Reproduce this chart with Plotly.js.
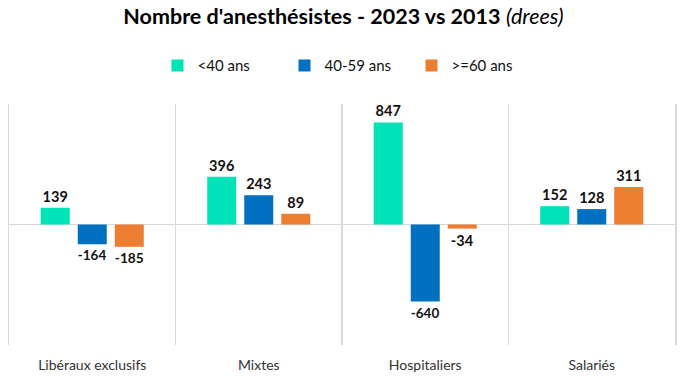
<!DOCTYPE html>
<html>
<head>
<meta charset="utf-8">
<script src="https://cdn.plot.ly/plotly-3.0.1.min.js"></script>
<style>html,body{margin:0;padding:0;background:#fff;}#chart{width:687px;height:376px;}</style>
</head>
<body>
<div id="chart"></div>
<script>
const categories = ["Libéraux exclusifs", "Mixtes", "Hospitaliers", "Salariés"];
const seriesNames = ["<40 ans", "40-59 ans", ">=60 ans"];
const under40 = [139, 396, 847, 152];
const from40to59 = [-164, 243, -640, 128];
const over60 = [-185, 89, -34, 311];
const colors = ["#00E3B8", "#0070C0", "#ED7D31"];

const values = [under40, from40to59, over60];
const traces = values.map((v, i) => ({
  type: "bar",
  name: seriesNames[i],
  x: categories,
  y: v,
  marker: {color: colors[i]},
  text: v.map(String),
  textposition: "outside",
  cliponaxis: false,
  textfont: {family: "Lato", size: 14.5, color: "#111", weight: "bold"},
  hoverinfo: "skip"
}));

const layout = {
  width: 687, height: 376,
  margin: {l: 9, r: 12, t: 104, b: 31},
  paper_bgcolor: "#fff", plot_bgcolor: "#fff",
  title: {
    text: "<b>Nombre d'anesthésistes - 2023 vs 2013</b> <i>(drees)</i>",
    font: {family: "Lato", size: 21.5, color: "#000"},
    x: 0.5, xanchor: "center", y: 0.957, yanchor: "middle"
  },
  showlegend: true,
  legend: {
    orientation: "h", x: 0.509, xanchor: "center", y: 0.825, yanchor: "middle",
    yref: "container",
    font: {family: "Lato", size: 15, color: "#111"},
    itemwidth: 30, entrywidth: 82, itemclick: false
  },
  barmode: "group",
  bargap: 0.333,
  bargroupgap: 0.216,
  xaxis: {
    type: "category",
    tickson: "boundaries",
    showgrid: true, gridcolor: "#d9d9d9", gridwidth: 1.5,
    showline: false, ticks: "",
    ticklabelstandoff: 10,
    tickfont: {family: "Lato", size: 14, color: "#333"},
    range: [-0.5, 3.5], fixedrange: true
  },
  yaxis: {
    range: [-1000, 1000],
    showgrid: false, showticklabels: false, ticks: "",
    showline: true, mirror: true, linecolor: "#d9d9d9", linewidth: 1.5,
    zeroline: true, zerolinecolor: "#d9d9d9", zerolinewidth: 1.5,
    fixedrange: true
  }
};

Plotly.newPlot("chart", traces, layout, {staticPlot: true, displayModeBar: false});
</script>
</body>
</html>
